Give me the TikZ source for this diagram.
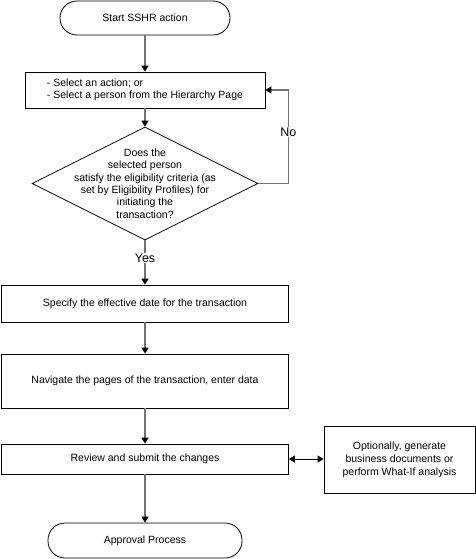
\documentclass[tikz,border=0pt]{standalone}
\usepackage{fontspec}
\setmainfont{Liberation Sans}
\usetikzlibrary{shapes.geometric,arrows.meta}

\begin{document}
\begin{tikzpicture}[x=1pt, y=-1pt,
  every node/.style={font=\fontsize{10.5}{12.3}\selectfont},
  terminal/.style={draw, line width=0.8pt, rounded corners=17pt, minimum width=#1, minimum height=35pt, inner sep=0pt},
  box/.style={draw, line width=0.8pt, inner sep=0pt},
  decision/.style={draw, line width=0.8pt, diamond, minimum width=226pt, minimum height=113pt, inner sep=0pt},
  flow/.style={draw=black!55, line width=1.3pt, -{Triangle[width=7pt,length=6pt,color=black]}},
  link/.style={draw=black, line width=0.8pt, {Triangle[width=7pt,length=6pt]}-{Triangle[width=7pt,length=6pt]}},
  answer/.style={font=\fontsize{12.5}{14}\selectfont, fill=white, inner sep=1pt}]
\useasboundingbox (0,0) rectangle (476,559); % page size
\node[terminal=170pt, minimum height=34pt] (start) at (145,18) {Start SSHR action}; % start
\node[box, minimum width=240pt, minimum height=36pt, align=left] (select) at (145,90) {- Select an action; or\\- Select a person from the Hierarchy Page}; % select
\node[decision] (check) at (145,183.5) {}; % eligibility check
\node[align=center] (checktext) at (check) {Does the\\selected person\\satisfy the eligibility criteria (as\\set by Eligibility Profiles) for\\initiating the\\transaction?}; % check text
\node[box, minimum width=287pt, minimum height=37pt] (date) at (145,303.5) {Specify the effective date for the transaction}; % date
\node[box, minimum width=287pt, minimum height=54pt] (navigate) at (145,381) {Navigate the pages of the transaction, enter data}; % navigate
\node[box, minimum width=287pt, minimum height=30pt] (review) at (145,459) {Review and submit the changes}; % review
\node[box, minimum width=151pt, minimum height=67pt, align=center, font=\fontsize{10.5}{13}\selectfont] (optional) at (399.5,459.5) {Optionally, generate\\business documents or\\perform What-If analysis}; % optional
\node[terminal=194pt] (approval) at (145,540.5) {Approval Process}; % end
\draw[flow] (start) -- (select);
\draw[flow] (select) -- (check);
\draw[flow] (check) -- node[answer, pos=0.4] {Yes} (date); % yes branch
\draw[flow] (check.east) -- ++(30,0) |- node[answer, pos=0.275] {No} (select.east); % no branch
\draw[flow] (date) -- (navigate);
\draw[flow] (navigate) -- (review);
\draw[flow] (review) -- (approval);
\draw[link] (review.east) -- (review.east -| optional.west); % optional step
\end{tikzpicture}
\end{document}
